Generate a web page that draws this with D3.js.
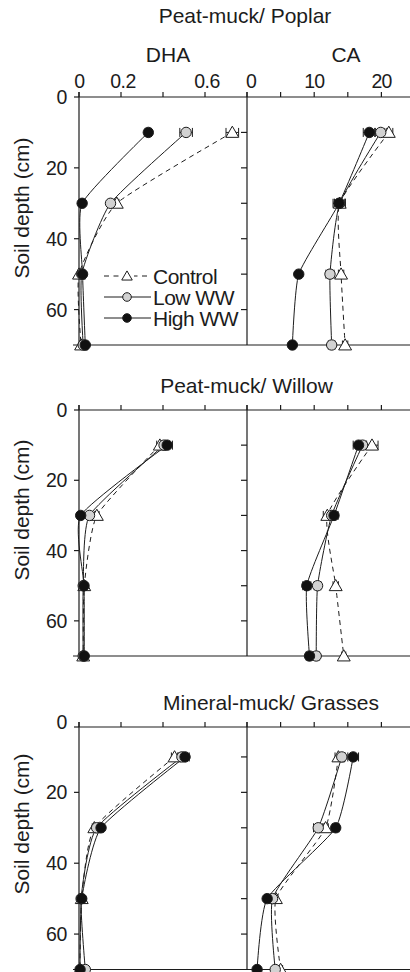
<!DOCTYPE html>
<html><head><meta charset="utf-8">
<script src="https://cdn.jsdelivr.net/npm/d3@7"></script>
<style>
html,body{margin:0;padding:0;background:#fff;}
svg{display:block;font-family:"Liberation Sans",Arial,sans-serif;}
</style></head>
<body><svg id="c" width="410" height="972"></svg>
<script>
// ---- data ----
const depths = [10, 30, 50, 70];
const sites = ["Peat-muck/ Poplar", "Peat-muck/ Willow", "Mineral-muck/ Grasses"];
const treatments = ["Control", "Low WW", "High WW"];
const variables = ["DHA", "CA"];
const dhaTicks = [0, 0.2, 0.4, 0.6];
const dhaTickLabels = ["0", "0.2", "", "0.6"];
const caTicks = [0, 5, 10, 15, 20];
const caTickLabels = ["0", "", "10", "", "20"];
const depthTicks = [0, 20, 40, 60];
const depthTickLabels = ["0", "20", "40", "60"];

// DHA values (Control, Low WW, High WW) per site
const poplarDHAControl = [0.73, 0.18, 0.0, 0.01];
const poplarDHALow     = [0.51, 0.15, 0.013, 0.02];
const poplarDHAHigh    = [0.33, 0.015, 0.017, 0.03];
const willowDHAControl = [0.385, 0.085, 0.025, 0.02];
const willowDHALow     = [0.405, 0.05, 0.02, 0.02];
const willowDHAHigh    = [0.42, 0.008, 0.024, 0.025];
const grassDHAControl  = [0.455, 0.073, 0.013, 0.004];
const grassDHALow      = [0.49, 0.084, 0.01, 0.03];
const grassDHAHigh     = [0.505, 0.105, 0.013, 0.005];
// CA values
const poplarCAControl = [21.1, 13.8, 14.0, 14.6];
const poplarCALow     = [19.9, 13.8, 12.35, 12.6];
const poplarCAHigh    = [18.2, 13.7, 7.7, 6.75];
const willowCAControl = [18.6, 11.95, 13.2, 14.4];
const willowCALow     = [17.2, 12.6, 10.5, 10.3];
const willowCAHigh    = [16.6, 12.95, 8.9, 9.3];
const grassCAControl  = [13.6, 11.7, 4.3, 5.0];
const grassCALow      = [14.1, 10.6, 3.8, 4.2];
const grassCAHigh     = [15.8, 13.2, 3.0, 1.5];
// error (half-width) values
const poplarDHAControlErr = [0.03, 0.01, 0.005, 0.005];
const poplarDHALowErr     = [0.03, 0.01, 0.005, 0.005];
const poplarDHAHighErr    = [0.015, 0.005, 0.005, 0.005];
const willowDHAControlErr = [0.015, 0.01, 0.005, 0.005];
const willowDHALowErr     = [0.015, 0.008, 0.005, 0.005];
const willowDHAHighErr    = [0.025, 0.005, 0.005, 0.005];
const grassDHAControlErr  = [0.015, 0.01, 0.005, 0.005];
const grassDHALowErr      = [0.015, 0.01, 0.005, 0.005];
const grassDHAHighErr     = [0.02, 0.01, 0.005, 0.005];
const poplarCAControlErr = [0.6, 0.8, 0.4, 0.4];
const poplarCALowErr     = [0.9, 0.8, 0.6, 0.5];
const poplarCAHighErr    = [0.9, 0.9, 0.3, 0.3];
const willowCAControlErr = [0.9, 0.6, 0.4, 0.3];
const willowCALowErr     = [0.6, 0.5, 0.5, 0.5];
const willowCAHighErr    = [0.8, 0.6, 0.6, 0.5];
const grassCAControlErr  = [0.5, 0.4, 0.3, 0.3];
const grassCALowErr      = [0.5, 0.7, 0.5, 0.3];
const grassCAHighErr     = [0.8, 0.5, 0.4, 0.3];

const siteData = [
  {DHA: [poplarDHAControl, poplarDHALow, poplarDHAHigh], CA: [poplarCAControl, poplarCALow, poplarCAHigh],
   DHAerr: [poplarDHAControlErr, poplarDHALowErr, poplarDHAHighErr], CAerr: [poplarCAControlErr, poplarCALowErr, poplarCAHighErr]},
  {DHA: [willowDHAControl, willowDHALow, willowDHAHigh], CA: [willowCAControl, willowCALow, willowCAHigh],
   DHAerr: [willowDHAControlErr, willowDHALowErr, willowDHAHighErr], CAerr: [willowCAControlErr, willowCALowErr, willowCAHighErr]},
  {DHA: [grassDHAControl, grassDHALow, grassDHAHigh], CA: [grassCAControl, grassCALow, grassCAHigh],
   DHAerr: [grassDHAControlErr, grassDHALowErr, grassDHAHighErr], CAerr: [grassCAControlErr, grassCALowErr, grassCAHighErr]}
];

// ---- layout ----
const ink = "#1c1c1c";
const svg = d3.select("#c");
const xL = 79, xM = 247, xR = 415;
const xDHA = d3.scaleLinear().domain([0, 0.8]).range([xL, xM]);
const xCA = d3.scaleLinear().domain([0, 25]).range([xM, xR]);
const panels = [
  {yr: [97, 345], off: 0, titleX: 245, titleY: 23, labelY: 208},
  {yr: [410, 656], off: 0, titleX: 246.5, titleY: 393, labelY: 510},
  {yr: [721.5, 969.5], off: 5.5, titleX: 271, titleY: 710, labelY: 824}
];
const styles = [
  {dash: "5,4", sym: "tri", fill: "#fff"},
  {dash: null, sym: "circ", fill: "#d2d2d2"},
  {dash: null, sym: "circ", fill: "#111"}
];

function marker(g, st, x, y, big) {
  if (st.sym === "circ") {
    g.append("circle").attr("cx", x).attr("cy", y).attr("r", big ? 5.2 : 4.3)
      .attr("fill", st.fill).attr("stroke", ink).attr("stroke-width", 1);
  } else {
    g.append("path").attr("d", d3.symbol(d3.symbolTriangle, big ? 72 : 48)())
      .attr("transform", `translate(${x},${y + (big ? 1.2 : 1)})`)
      .attr("fill", "#fff").attr("stroke", ink).attr("stroke-width", 1);
  }
}

const curve = d3.curveCardinal.tension(0.5);

panels.forEach((p, pi) => {
  const y = d3.scaleLinear().domain([0, 70]).range(p.yr);
  const top = y(0) + p.off, bot = y(70);
  const g = svg.append("g");
  // title
  g.append("text").attr("x", p.titleX).attr("y", p.titleY).attr("text-anchor", "middle")
    .attr("font-size", 21).attr("fill", ink).text(sites[pi]);
  // y label
  g.append("text").attr("transform", `translate(29,${p.labelY}) rotate(-90)`)
    .attr("text-anchor", "middle").attr("font-size", 21).attr("fill", ink).text("Soil depth (cm)");
  // frame
  const ln = (x1, y1, x2, y2) => g.append("line").attr("x1", x1).attr("y1", y1).attr("x2", x2).attr("y2", y2)
    .attr("stroke", ink).attr("stroke-width", 1.2);
  ln(xL, top, xR, top);
  ln(xL - 6, bot, xR, bot);
  ln(xL, top - 5, xL, bot);
  ln(xM, top - 5, xM, bot);
  // left ticks
  depthTicks.forEach((d, i) => {
    const yy = i === 0 ? top : y(d);
    ln(xL - 5, yy, xL, yy);
    g.append("text").attr("x", 67).attr("y", y(d)).attr("dy", "0.36em").attr("text-anchor", "end")
      .attr("font-size", 19.5).attr("letter-spacing", -0.3).attr("fill", ink).text(depthTickLabels[i]);
  });
  // divider ticks (pointing left)
  [10, 20, 30, 40, 50, 60].forEach(d => ln(xM - 6, y(d), xM, y(d)));
  // top ticks
  dhaTicks.forEach(v => ln(xDHA(v), top - 5, xDHA(v), top));
  caTicks.forEach(v => ln(xCA(v), top - 5, xCA(v), top));
  if (pi === 0) {
    dhaTicks.forEach((v, i) => g.append("text").attr("x", xDHA(v) + (i ? 2 : 0.5)).attr("y", 88).attr("text-anchor", "middle")
      .attr("font-size", 19.5).attr("letter-spacing", -0.5).attr("fill", ink).text(dhaTickLabels[i]));
    caTicks.forEach((v, i) => g.append("text").attr("x", xCA(v) + (i === 0 ? 4 : 0)).attr("y", 88).attr("text-anchor", "middle")
      .attr("font-size", 19.5).attr("letter-spacing", -1).attr("fill", ink).text(caTickLabels[i]));
    g.append("text").attr("x", 168).attr("y", 62).attr("text-anchor", "middle").attr("font-size", 21).attr("fill", ink).text(variables[0]);
    g.append("text").attr("x", 346).attr("y", 62).attr("text-anchor", "middle").attr("font-size", 21).attr("fill", ink).text(variables[1]);
  }
  // series
  const sd = siteData[pi];
  [["DHA", xDHA], ["CA", xCA]].forEach(([key, xs]) => {
    const lines = g.append("g"), errs = g.append("g"), marks = g.append("g");
    treatments.forEach((t, ti) => {
      const vals = sd[key][ti], ev = sd[key + "err"][ti], st = styles[ti];
      const pts = depths.map((d, i) => [xs(vals[i]), y(d)]);
      lines.append("path").attr("d", d3.line().curve(curve)(pts))
        .attr("fill", "none").attr("stroke", ink).attr("stroke-width", 1)
        .attr("stroke-dasharray", st.dash);
      depths.forEach((d, i) => {
        const x1 = xs(vals[i] - ev[i]), x2 = xs(vals[i] + ev[i]), yy = y(d);
        errs.append("line").attr("x1", x1).attr("x2", x2).attr("y1", yy).attr("y2", yy).attr("stroke", ink).attr("stroke-width", 1);
        [x1, x2].forEach(xx => errs.append("line").attr("x1", xx).attr("x2", xx).attr("y1", yy - 4.5).attr("y2", yy + 4.5)
          .attr("stroke", ink).attr("stroke-width", 1));
        marker(marks, st, pts[i][0], pts[i][1], true);
      });
    });
  });
  // legend
  if (pi === 0) {
    const lg = g.append("g");
    const ly = [276, 297, 318];
    treatments.forEach((t, ti) => {
      const st = styles[ti];
      lg.append("line").attr("x1", 104).attr("x2", 151).attr("y1", ly[ti]).attr("y2", ly[ti])
        .attr("stroke", ink).attr("stroke-width", 1).attr("stroke-dasharray", st.dash ? "5,4.5" : null);
      if (st.sym === "tri") lg.append("rect").attr("x", 120).attr("y", ly[ti] - 6).attr("width", 14).attr("height", 12).attr("fill", "#fff");
      marker(lg, st, 127, ly[ti], false);
      lg.append("text").attr("x", 153).attr("y", ly[ti]).attr("dy", "0.36em").attr("font-size", 21)
        .attr("letter-spacing", -0.5).attr("fill", ink).text(t);
    });
  }
});
</script></body></html>
